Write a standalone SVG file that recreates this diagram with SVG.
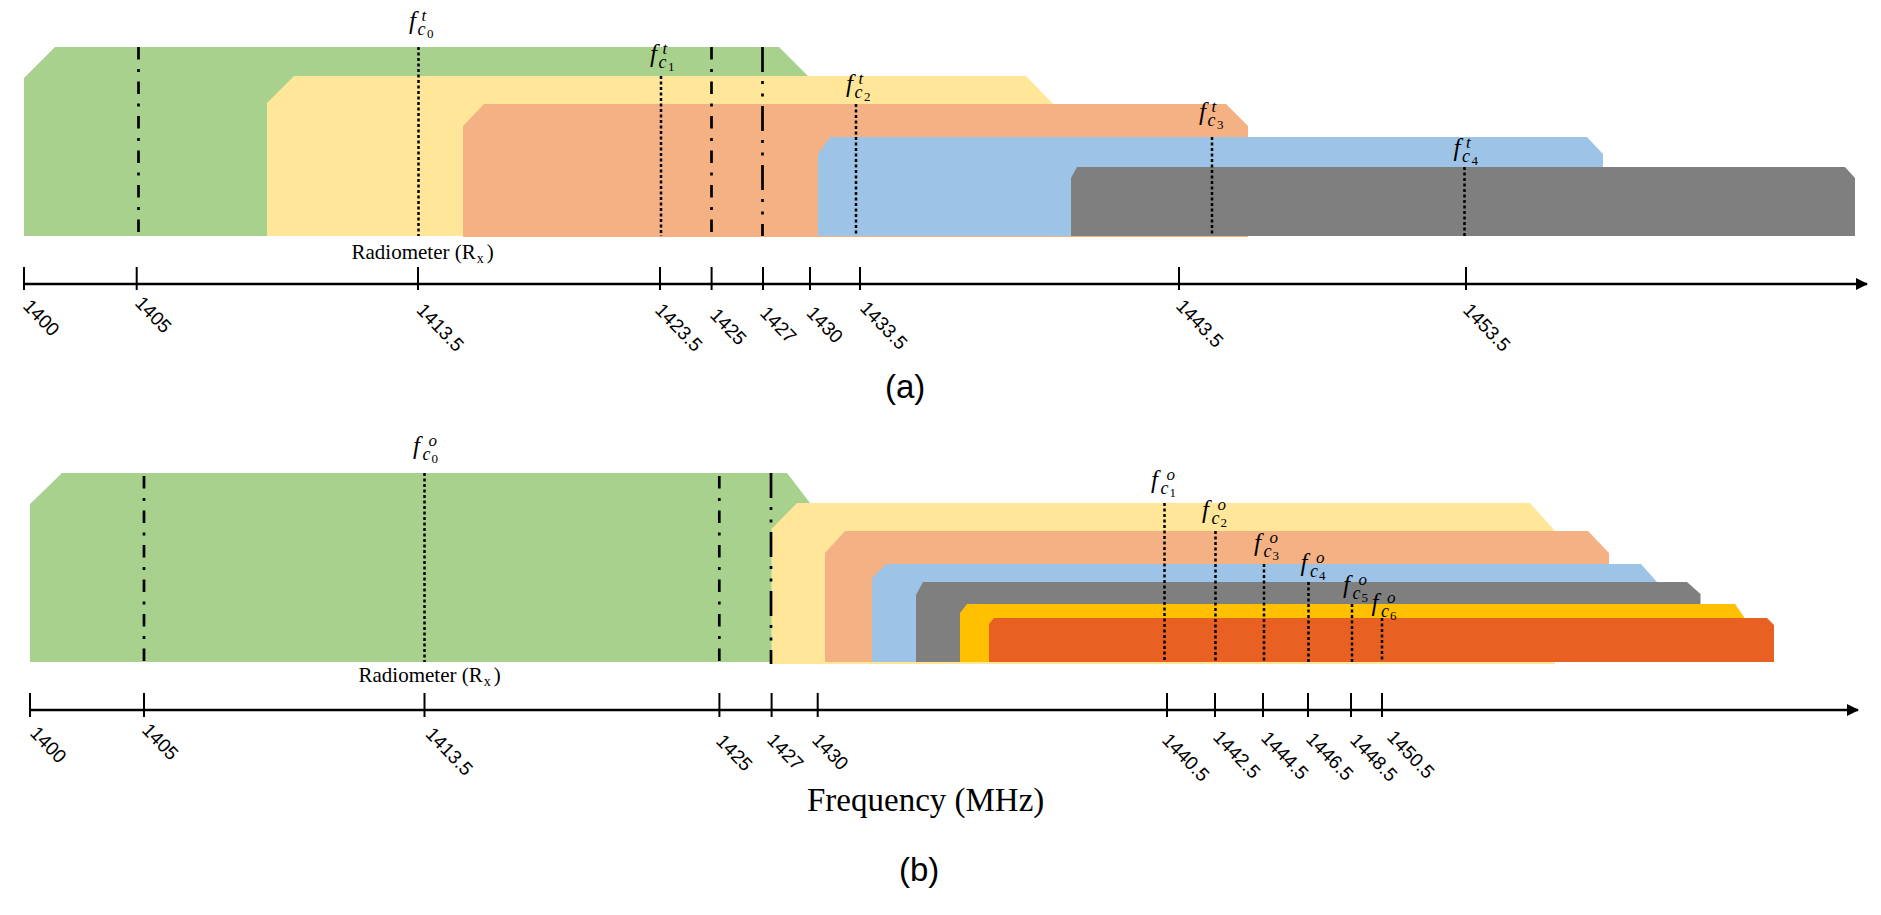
<svg xmlns="http://www.w3.org/2000/svg" width="1881" height="915" viewBox="0 0 1881 915">
<style>
.green{fill:#A9D18E}.yellow{fill:#FFE699}.orange{fill:#F4B183}.blue{fill:#9DC3E6}.gray{fill:#7F7F7F}.gold{fill:#FFC000}.dorange{fill:#E86022}
.axis{stroke:#000;stroke-width:2.5;fill:none}
.tick{stroke:#000;stroke-width:2}
.dot{stroke:#000;stroke-width:2.5;stroke-dasharray:3 2.5;fill:none}
.dd{stroke:#000;stroke-width:2.7;stroke-dasharray:12.5 9.5 3 9.5;fill:none}
.ddd{stroke:#000;stroke-width:2.7;stroke-dasharray:25 9 3 9.5 3 9.5;fill:none}
.tl{font-family:"Liberation Sans",Arial,sans-serif;font-size:19px;fill:#000}
.cap{font-family:"Liberation Sans",Arial,sans-serif;font-size:33px;fill:#000}
.ser{font-family:"Liberation Serif","Times New Roman",serif;fill:#000}
.lab{font-family:"Liberation Serif","Times New Roman",serif;fill:#000}
.f{font-style:italic;font-size:25px}
.sp{font-style:italic;font-size:17px}
.sb{font-style:italic;font-size:18px}
.ss{font-size:13px}
</style>
<defs>
<marker id="arr" viewBox="0 0 12 12" refX="11" refY="6" markerWidth="12" markerHeight="12" markerUnits="userSpaceOnUse" orient="auto">
<path d="M0,0 L12,6 L0,12 Z" fill="#000"/>
</marker>
</defs>
<rect width="1881" height="915" fill="#fff"/>

<!-- Part (a) bands -->
<g id="a-band0"><polygon class="green" points="24,236 24,78 55,47 779,47 808,76 808,236"/></g>
<g id="a-band1"><polygon class="yellow" points="267,236 267,103 294,76 1026,76 1053,104 1053,236"/></g>
<g id="a-band2"><polygon class="orange" points="463,237 463,126 484,104 1226,104 1248,126 1248,237"/></g>
<g id="a-band3"><polygon class="blue" points="818,236 818,154 830,137 1587,137 1603,154 1603,236"/></g>
<g id="a-band4"><polygon class="gray" points="1071,236 1071,178 1077,167 1845,167 1855,178 1855,236"/></g>

<!-- Part (b) bands -->
<g id="b-band0"><polygon class="green" points="30,662 30,504 62,473 787,473 810,503 810,662"/></g>
<g id="b-band1"><polygon class="yellow" points="771.5,664 771.5,529 797,503 1530,503 1555,531 1555,664"/></g>
<g id="b-band2"><polygon class="orange" points="825,662 825,553 845,531 1588,531 1609,553 1609,662"/></g>
<g id="b-band3"><polygon class="blue" points="872,662 872,578 886,564 1641,564 1657,582 1657,662"/></g>
<g id="b-band4"><polygon class="gray" points="916,662 916,595 923,582 1687,582 1700.5,594 1700.5,662"/></g>
<g id="b-band5"><polygon class="gold" points="960,662 960,613 967,604 1735,604 1744,617 1744,662"/></g>
<g id="b-band6"><polygon class="dorange" points="989,662 989,624 994,618 1767,618 1774,625 1774,662"/></g>

<!-- connectors / markers -->
<g id="connectors">
<line class="dd" x1="138.5" y1="47" x2="138.5" y2="236"/>
<line class="dot" x1="418.5" y1="47" x2="418.5" y2="236"/>
<line class="dot" x1="661" y1="76" x2="661" y2="236"/>
<line class="dd" x1="711.5" y1="47" x2="711.5" y2="236"/>
<line class="ddd" x1="762.5" y1="47" x2="762.5" y2="236"/>
<line class="dot" x1="856" y1="104" x2="856" y2="236"/>
<line class="dot" x1="1212" y1="137" x2="1212" y2="236"/>
<line class="dot" x1="1464.5" y1="167" x2="1464.5" y2="236"/>

<line class="dd" x1="144" y1="476" x2="144" y2="662"/>
<line class="dot" x1="424.5" y1="473" x2="424.5" y2="662"/>
<line class="dd" x1="719.3" y1="476" x2="719.3" y2="662"/>
<line class="ddd" x1="771" y1="473" x2="771" y2="664"/>
<line class="dot" x1="1164.5" y1="503" x2="1164.5" y2="662"/>
<line class="dot" x1="1215.5" y1="531" x2="1215.5" y2="662"/>
<line class="dot" x1="1264" y1="564" x2="1264" y2="662"/>
<line class="dot" x1="1308.5" y1="582" x2="1308.5" y2="662"/>
<line class="dot" x1="1352" y1="604" x2="1352" y2="662"/>
<line class="dot" x1="1382" y1="618" x2="1382" y2="662"/>

<!-- axes -->
<line class="axis" x1="24" y1="284" x2="1867" y2="284" marker-end="url(#arr)"/>
<line class="axis" x1="30" y1="710" x2="1858" y2="710" marker-end="url(#arr)"/>
<g class="tick">
<line x1="24" y1="267" x2="24" y2="290"/>
<line x1="136.7" y1="267" x2="136.7" y2="290"/>
<line x1="418" y1="267" x2="418" y2="290"/>
<line x1="660" y1="267" x2="660" y2="290"/>
<line x1="711.6" y1="267" x2="711.6" y2="290"/>
<line x1="763" y1="267" x2="763" y2="290"/>
<line x1="810" y1="267" x2="810" y2="290"/>
<line x1="860" y1="267" x2="860" y2="290"/>
<line x1="1179" y1="267" x2="1179" y2="290"/>
<line x1="1466" y1="267" x2="1466" y2="290"/>

<line x1="30" y1="693" x2="30" y2="717"/>
<line x1="144" y1="693" x2="144" y2="717"/>
<line x1="424.5" y1="693" x2="424.5" y2="717"/>
<line x1="719.4" y1="693" x2="719.4" y2="717"/>
<line x1="771.6" y1="693" x2="771.6" y2="717"/>
<line x1="817.7" y1="693" x2="817.7" y2="717"/>
<line x1="1167" y1="693" x2="1167" y2="717"/>
<line x1="1215" y1="693" x2="1215" y2="717"/>
<line x1="1263" y1="693" x2="1263" y2="717"/>
<line x1="1308" y1="693" x2="1308" y2="717"/>
<line x1="1351" y1="693" x2="1351" y2="717"/>
<line x1="1382" y1="693" x2="1382" y2="717"/>
</g>
</g>

<!-- tick labels (a) -->
<g id="a-ticklabels" class="tl">
<text transform="translate(22,307) rotate(46)">1400</text>
<text transform="translate(134,304) rotate(46)">1405</text>
<text transform="translate(415.5,311) rotate(46)">1413.5</text>
<text transform="translate(654,311) rotate(46)">1423.5</text>
<text transform="translate(709,316) rotate(46)">1425</text>
<text transform="translate(759,314) rotate(46)">1427</text>
<text transform="translate(805.5,314) rotate(46)">1430</text>
<text transform="translate(859,309) rotate(46)">1433.5</text>
<text transform="translate(1175,307) rotate(46)">1443.5</text>
<text transform="translate(1462,311) rotate(46)">1453.5</text>
</g>
<!-- tick labels (b) -->
<g id="b-ticklabels" class="tl">
<text transform="translate(29,734) rotate(46)">1400</text>
<text transform="translate(141,731) rotate(46)">1405</text>
<text transform="translate(424.5,735) rotate(46)">1413.5</text>
<text transform="translate(715,742) rotate(46)">1425</text>
<text transform="translate(766,741) rotate(46)">1427</text>
<text transform="translate(811,741) rotate(46)">1430</text>
<text transform="translate(1161,741) rotate(46)">1440.5</text>
<text transform="translate(1212,738) rotate(46)">1442.5</text>
<text transform="translate(1260,739) rotate(46)">1444.5</text>
<text transform="translate(1305,740) rotate(46)">1446.5</text>
<text transform="translate(1349,741) rotate(46)">1448.5</text>
<text transform="translate(1386,738) rotate(46)">1450.5</text>
</g>

<!-- f labels (a) -->
<g id="a-fc0"><text class="lab" transform="translate(409,12)"><tspan class="f" x="0" y="17">f</tspan><tspan class="sp" x="12.5" y="9">t</tspan><tspan class="sb" x="8.5" y="23">c</tspan><tspan class="ss" x="18" y="26">0</tspan></text></g>
<g id="a-fc1"><text class="lab" transform="translate(650,45)"><tspan class="f" x="0" y="17">f</tspan><tspan class="sp" x="12.5" y="9">t</tspan><tspan class="sb" x="8.5" y="23">c</tspan><tspan class="ss" x="18" y="26">1</tspan></text></g>
<g id="a-fc2"><text class="lab" transform="translate(846,75)"><tspan class="f" x="0" y="17">f</tspan><tspan class="sp" x="12.5" y="9">t</tspan><tspan class="sb" x="8.5" y="23">c</tspan><tspan class="ss" x="18" y="26">2</tspan></text></g>
<g id="a-fc3"><text class="lab" transform="translate(1199,103)"><tspan class="f" x="0" y="17">f</tspan><tspan class="sp" x="12.5" y="9">t</tspan><tspan class="sb" x="8.5" y="23">c</tspan><tspan class="ss" x="18" y="26">3</tspan></text></g>
<g id="a-fc4"><text class="lab" transform="translate(1453.5,139)"><tspan class="f" x="0" y="17">f</tspan><tspan class="sp" x="12.5" y="9">t</tspan><tspan class="sb" x="8.5" y="23">c</tspan><tspan class="ss" x="18" y="26">4</tspan></text></g>

<!-- f labels (b) -->
<g id="b-fc0"><text class="lab" transform="translate(413,437)"><tspan class="f" x="0" y="17">f</tspan><tspan class="sp" x="15.5" y="9">o</tspan><tspan class="sb" x="9.5" y="22.5">c</tspan><tspan class="ss" x="18.5" y="25.5">0</tspan></text></g>
<g id="b-fc1"><text class="lab" transform="translate(1151,471)"><tspan class="f" x="0" y="17">f</tspan><tspan class="sp" x="15.5" y="9">o</tspan><tspan class="sb" x="9.5" y="22.5">c</tspan><tspan class="ss" x="18.5" y="25.5">1</tspan></text></g>
<g id="b-fc2"><text class="lab" transform="translate(1202,501)"><tspan class="f" x="0" y="17">f</tspan><tspan class="sp" x="15.5" y="9">o</tspan><tspan class="sb" x="9.5" y="22.5">c</tspan><tspan class="ss" x="18.5" y="25.5">2</tspan></text></g>
<g id="b-fc3"><text class="lab" transform="translate(1254,534)"><tspan class="f" x="0" y="17">f</tspan><tspan class="sp" x="15.5" y="9">o</tspan><tspan class="sb" x="9.5" y="22.5">c</tspan><tspan class="ss" x="18.5" y="25.5">3</tspan></text></g>
<g id="b-fc4"><text class="lab" transform="translate(1300.5,554)"><tspan class="f" x="0" y="17">f</tspan><tspan class="sp" x="15.5" y="9">o</tspan><tspan class="sb" x="9.5" y="22.5">c</tspan><tspan class="ss" x="18.5" y="25.5">4</tspan></text></g>
<g id="b-fc5"><text class="lab" transform="translate(1343,576)"><tspan class="f" x="0" y="17">f</tspan><tspan class="sp" x="15.5" y="9">o</tspan><tspan class="sb" x="9.5" y="22.5">c</tspan><tspan class="ss" x="18.5" y="25.5">5</tspan></text></g>
<g id="b-fc6"><text class="lab" transform="translate(1371.5,594)"><tspan class="f" x="0" y="17">f</tspan><tspan class="sp" x="15.5" y="9">o</tspan><tspan class="sb" x="9.5" y="22.5">c</tspan><tspan class="ss" x="18.5" y="25.5">6</tspan></text></g>

<!-- radiometer labels -->
<g id="a-radiometer"><text class="ser" x="351.5" y="258.5" font-size="21">Radiometer (R<tspan font-size="14" dx="1" dy="4.5">x</tspan><tspan dx="3" dy="-4.5">)</tspan></text></g>
<g id="b-radiometer"><text class="ser" x="358.5" y="681.7" font-size="21">Radiometer (R<tspan font-size="14" dx="1" dy="4.5">x</tspan><tspan dx="3" dy="-4.5">)</tspan></text></g>

<g id="freq-label"><text class="ser" x="807" y="810.7" font-size="33">Frequency (MHz)</text></g>
<g id="caption-a"><text class="cap" x="885" y="398">(a)</text></g>
<g id="caption-b"><text class="cap" x="899" y="881">(b)</text></g>
</svg>
